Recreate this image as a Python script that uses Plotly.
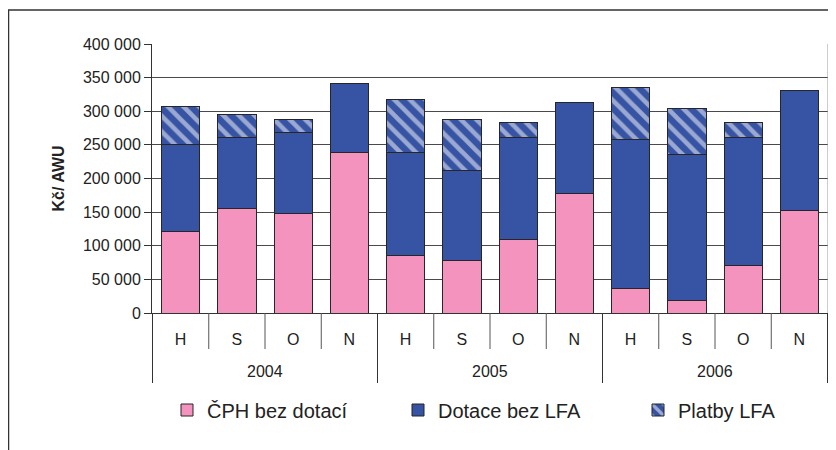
import plotly.graph_objects as go

years = ["2004"] * 4 + ["2005"] * 4 + ["2006"] * 4
groups = ["H", "S", "O", "N"] * 3
year_labels = ["2004", "2005", "2006"]

cph = [121000, 155000, 148000, 238000, 85000, 78000, 110000, 178000, 36000, 18000, 70000, 152000]
dotace = [130000, 106000, 120000, 104000, 154000, 134000, 151000, 135000, 222000, 217000, 191000, 179000]
platby = [56000, 34000, 19000, 0, 78000, 75000, 22000, 0, 78000, 69000, 22000, 0]

tick_vals = [0, 50000, 100000, 150000, 200000, 250000, 300000, 350000, 400000]
tick_text = ["0", "50 000", "100 000", "150 000", "200 000", "250 000", "300 000", "350 000", "400 000"]

cats = [f"{y} {g}" for y, g in zip(years, groups)]

PINK = "#F493BE"
BLUE = "#3653A4"
LINE = dict(color="#262626", width=1)
FONT = "Liberation Sans"

# page body adds an 8px offset; target screen positions are converted below
OFF = 8
PL, PR, PT, PB = 152, 828, 44, 313   # plot area on screen
W_PLOT = PR - PL
H_PLOT = PB - PT


def px_x(p):
    return (p - PL) / W_PLOT


def px_y(p):
    return (PB - p) / H_PLOT


fig = go.Figure()
fig.add_bar(x=cats, y=cph, name="ČPH bez dotací", legend="legend",
            marker=dict(color=PINK, line=LINE))
fig.add_bar(x=cats, y=dotace, name="Dotace bez LFA", legend="legend2",
            marker=dict(color=BLUE, line=LINE))
fig.add_bar(x=cats, y=platby, name="Platby LFA", legend="legend3",
            marker=dict(color=BLUE, line=LINE,
                        pattern=dict(shape="\\", fgcolor="white", bgcolor=BLUE,
                                     size=11, solidity=0.42)))

leg_common = dict(orientation="h", yanchor="middle", xanchor="left",
                  font=dict(size=20, family=FONT, color="#222"),
                  bgcolor="rgba(0,0,0,0)", borderwidth=0, itemwidth=30)

fig.update_layout(
    barmode="stack",
    bargap=0.32,
    width=836, height=450,
    margin=dict(l=PL - OFF, r=836 - (PR - OFF), t=PT - OFF, b=450 - (PB - OFF),
                autoexpand=False),
    paper_bgcolor="white", plot_bgcolor="white",
    font=dict(family=FONT, size=16, color="#222"),
    showlegend=True,
    legend=dict(x=px_x(167), y=px_y(410), **leg_common),
    legend2=dict(x=px_x(398), y=px_y(410), **leg_common),
    legend3=dict(x=px_x(638), y=px_y(410), **leg_common),
    xaxis=dict(type="category", tickvals=cats, ticktext=groups,
               showline=True, linecolor="#333", linewidth=1,
               ticks="", ticklabelstandoff=12,
               tickfont=dict(size=16, family=FONT, color="#222")),
    yaxis=dict(range=[0, 400000], tickvals=tick_vals, ticktext=tick_text,
               showgrid=True, gridcolor="#4a4a4a", gridwidth=1,
               showline=True, linecolor="#333", linewidth=1,
               ticks="outside", ticklen=7, tickcolor="#333",
               tickfont=dict(size=16, family=FONT, color="#222"),
               title=dict(text="<b>Kč/ AWU</b>", font=dict(size=16, family=FONT, color="#222"),
                          standoff=14)),
)

# separators under the category axis
n = len(cats)
for i in range(n + 1):
    boundary = i % 4 == 0
    fig.add_shape(type="line", xref="x", yref="paper",
                  x0=i - 0.5, x1=i - 0.5, y0=0,
                  y1=px_y(383) if boundary else px_y(349),
                  line=dict(color="#555" if not boundary else "#333", width=1))

# year labels
for k, yl in enumerate(year_labels):
    fig.add_annotation(xref="x", yref="paper", x=4 * k + 1.5, y=px_y(371),
                       text=yl, showarrow=False, yanchor="middle",
                       font=dict(size=16, family=FONT, color="#222"))

# plot area right border
fig.add_shape(type="line", xref="paper", yref="paper", x0=1, x1=1, y0=0, y1=1,
              line=dict(color="#999", width=1))
# outer frame
fig.add_shape(type="rect", xref="paper", yref="paper",
              x0=px_x(8.5), x1=px_x(860), y0=px_y(470), y1=px_y(10),
              line=dict(color="#333", width=1.5), layer="below")

fig.write_html("out.html")
